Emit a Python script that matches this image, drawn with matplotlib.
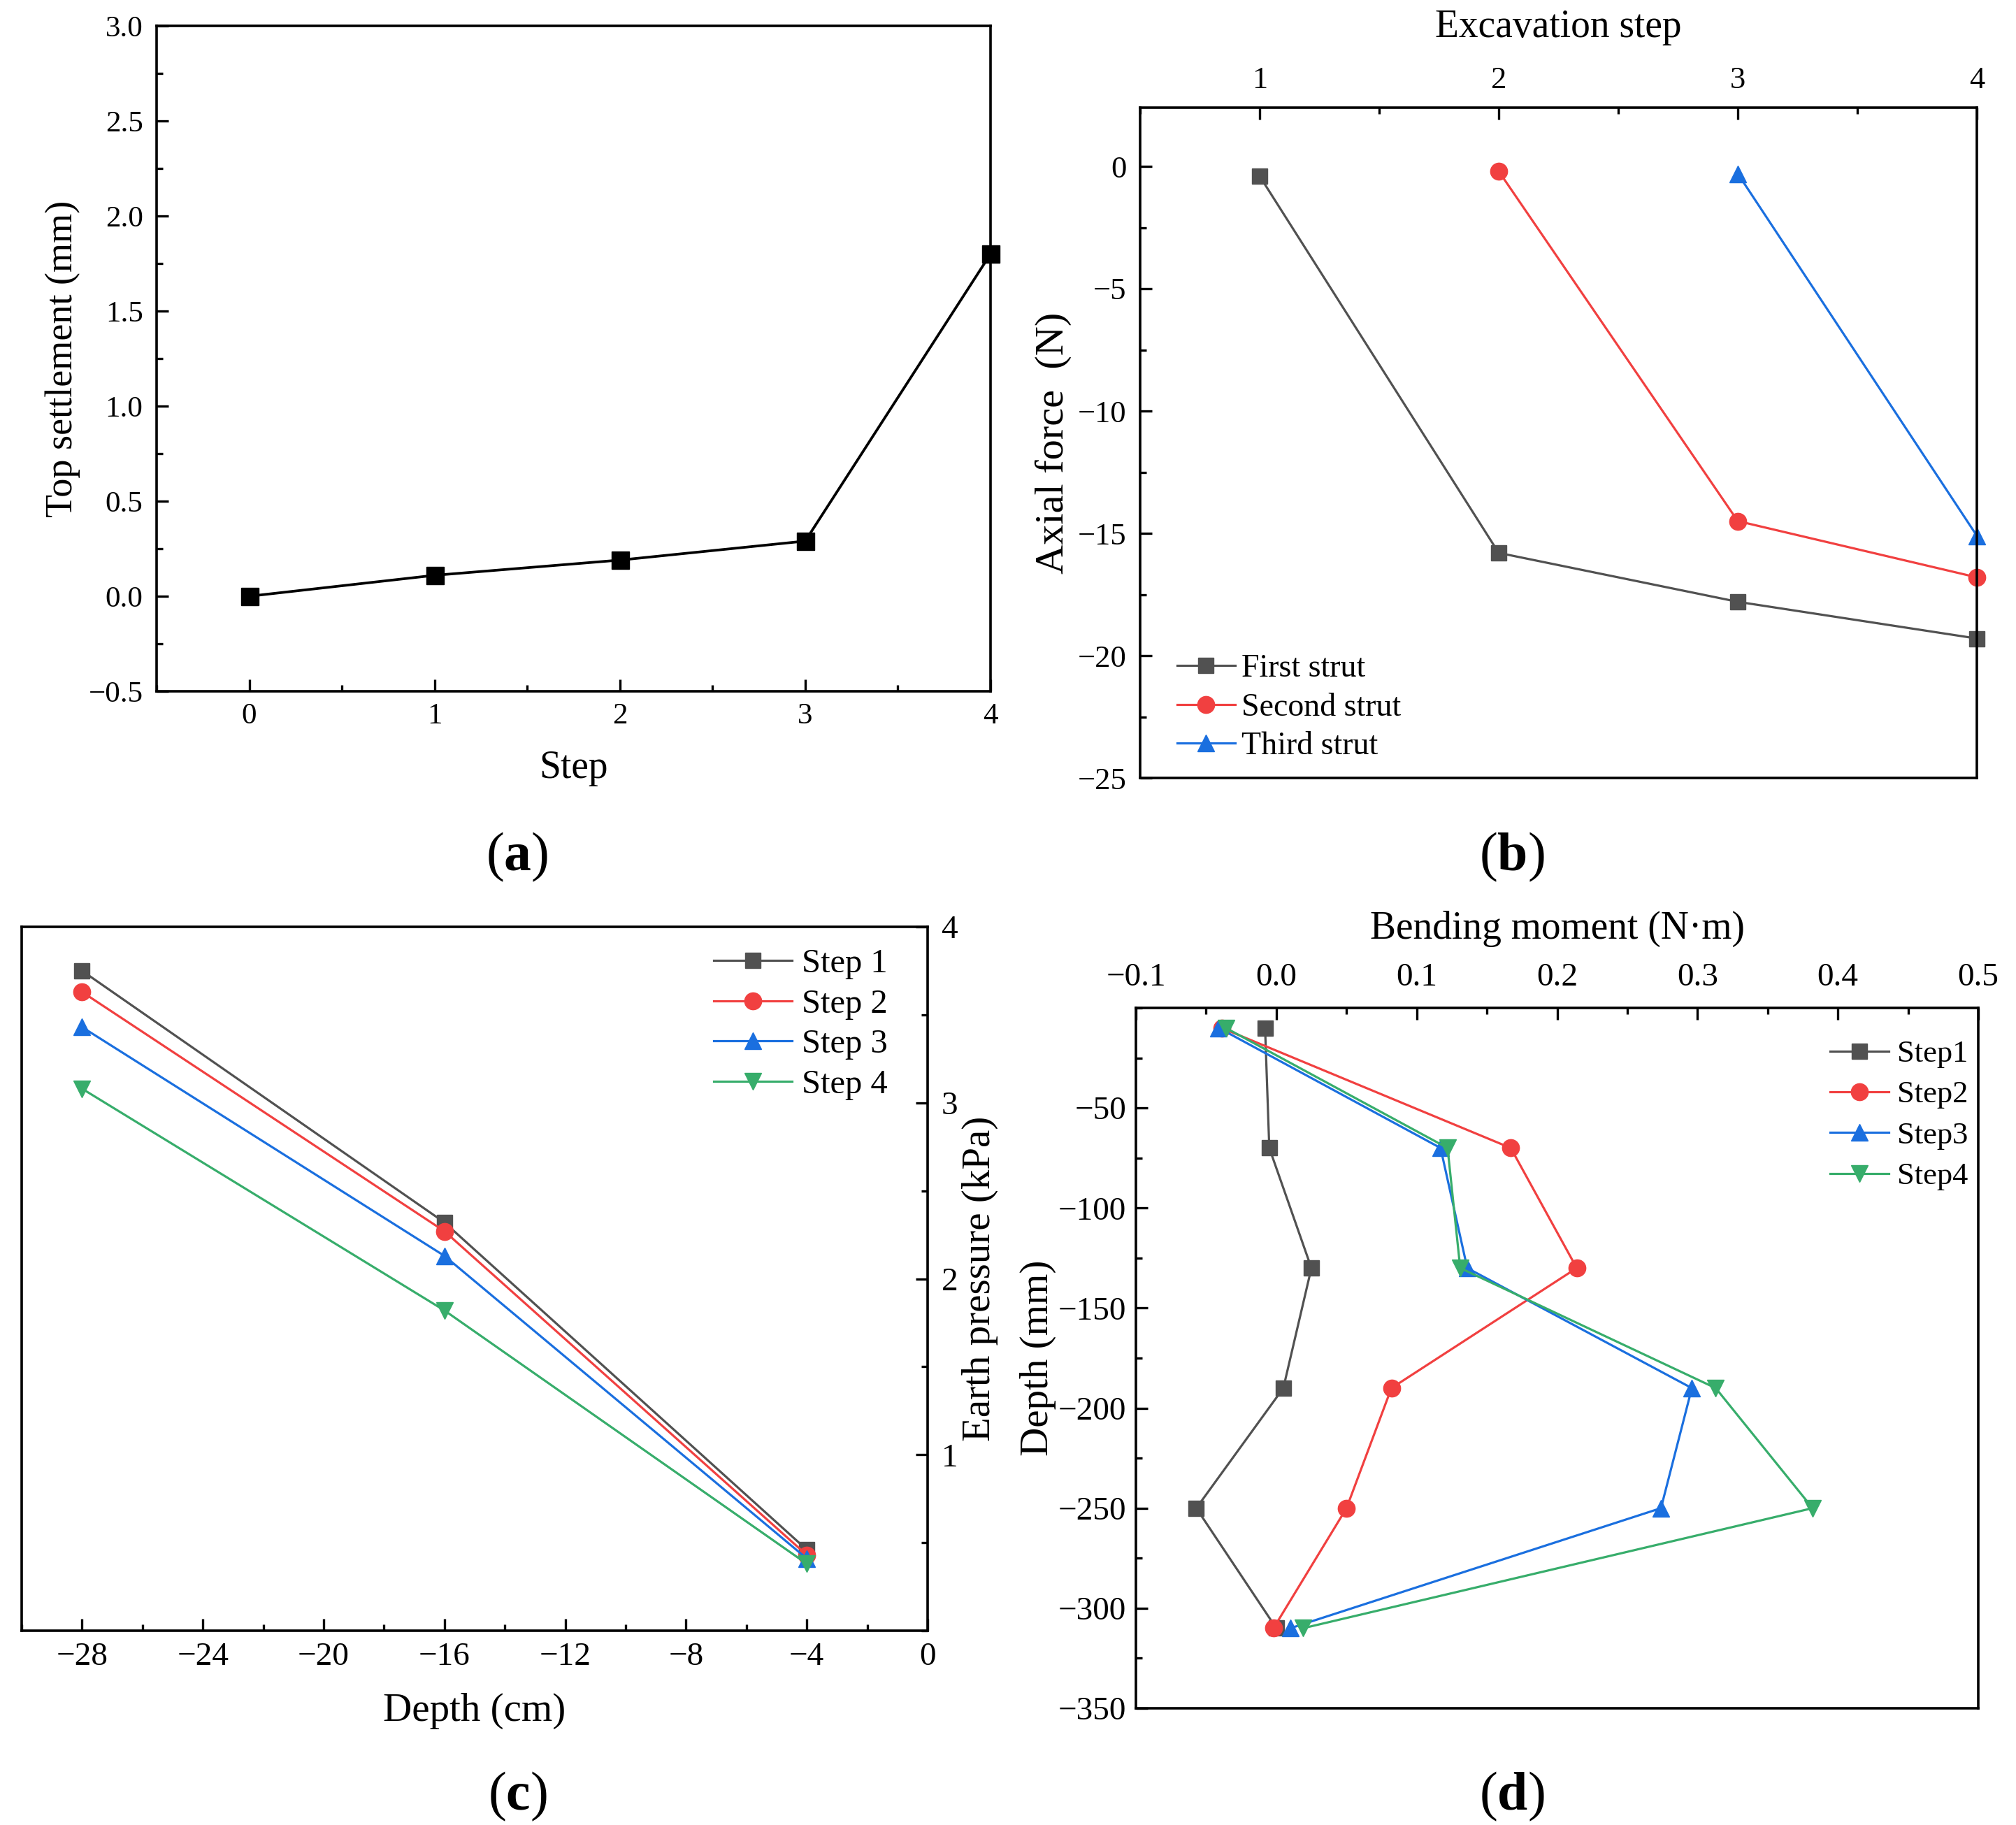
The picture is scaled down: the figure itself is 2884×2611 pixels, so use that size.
import matplotlib
matplotlib.use("Agg")
import matplotlib.pyplot as plt
from matplotlib.ticker import MultipleLocator

plt.rcParams["font.family"] = ["Liberation Serif", "DejaVu Serif"]
plt.rcParams["mathtext.fontset"] = "custom"
plt.rcParams["mathtext.rm"] = "Liberation Serif"
plt.rcParams["mathtext.bf"] = "Liberation Serif:bold"
plt.rcParams["axes.unicode_minus"] = True

# origin-style palette
GRAY, RED, BLUE, GREEN = "#515151", "#F14040", "#1A6FDF", "#37AD6B"

# (a) top settlement
steps_a = [0, 1, 2, 3, 4]
settlement = [0.0, 0.11, 0.19, 0.29, 1.80]

# (b) strut axial force
exc_first = [1, 2, 3, 4]
force_first = [-0.4, -15.8, -17.8, -19.3]
exc_second = [2, 3, 4]
force_second = [-0.2, -14.5, -16.8]
exc_third = [3, 4]
force_third = [-0.3, -15.1]

# (c) earth pressure
depth_cm = [-28, -16, -4]
ep_step1 = [3.75, 2.32, 0.46]
ep_step2 = [3.63, 2.27, 0.43]
ep_step3 = [3.43, 2.13, 0.41]
ep_step4 = [3.08, 1.82, 0.38]

# (d) bending moment
depth_mm = [-10, -70, -130, -190, -250, -310]
bm_step1 = [-0.008, -0.005, 0.025, 0.005, -0.057, 0.0]
bm_step2 = [-0.039, 0.167, 0.214, 0.082, 0.050, -0.002]
bm_step3 = [-0.041, 0.117, 0.136, 0.296, 0.274, 0.010]
bm_step4 = [-0.036, 0.122, 0.131, 0.313, 0.382, 0.019]

W, H = 2884, 2611
fig = plt.figure(figsize=(W / 100, H / 100), dpi=100)

LW = 2.3
MS_SQ, MS_RD = 16, 17.5
LABEL = 40


def box(l, r, t, b):
    return [l / W, 1 - b / H, (r - l) / W, (b - t) / H]


def fpos(x, y):
    return (x / W, 1 - y / H)


def style(ax, size):
    for s in ax.spines.values():
        s.set_linewidth(2.6)
    ax.tick_params(which="both", direction="in", width=2.4, labelsize=size)
    ax.tick_params(which="major", length=12.5)
    ax.tick_params(which="minor", length=6.5)


def legend(ax, x, y, size, hlen, hpad, spacing):
    ax.legend(loc="upper left", bbox_to_anchor=fpos(x, y),
              bbox_transform=fig.transFigure, frameon=False, fontsize=size,
              handlelength=hlen, handletextpad=hpad, labelspacing=spacing,
              borderpad=0, borderaxespad=0)


# ---- (a) ----
ax = fig.add_axes(box(224, 1417, 37, 989))
ax.plot(steps_a, settlement, color="black", lw=2.7, marker="s", ms=18, clip_on=False)
ax.set_xlim(-0.5, 4)
ax.set_ylim(-0.5, 3.0)
ax.xaxis.set_major_locator(MultipleLocator(1))
ax.xaxis.set_minor_locator(MultipleLocator(0.5))
ax.set_yticks([-0.5, 0.0, 0.5, 1.0, 1.5, 2.0, 2.5, 3.0])
ax.set_yticklabels(["\u22120.5", "0.0", "0.5", "1.0", "1.5", "2.0", "2.5", "3.0"])
ax.yaxis.set_minor_locator(MultipleLocator(0.25))
style(ax, 31)
ax.tick_params(axis="x", pad=12)
ax.tick_params(axis="y", pad=14)
ax.set_xlabel("Step", fontsize=LABEL, labelpad=21)
ax.set_ylabel("Top settlement (mm)", fontsize=LABEL - 1, labelpad=8)

# ---- (b) ----
ax = fig.add_axes(box(1631, 2828, 154, 1113))
ax.plot(exc_first, force_first, color=GRAY, lw=LW, marker="s", ms=MS_SQ,
        label="First strut", clip_on=False)
ax.plot(exc_second, force_second, color=RED, lw=LW, marker="o", ms=MS_RD,
        label="Second strut", clip_on=False)
ax.plot(exc_third, force_third, color=BLUE, lw=LW, marker="^", ms=MS_RD,
        label="Third strut", clip_on=False)
ax.set_xlim(0.5, 4)
ax.set_ylim(-25, 2.4)
ax.xaxis.tick_top()
ax.xaxis.set_label_position("top")
ax.xaxis.set_major_locator(MultipleLocator(1))
ax.xaxis.set_minor_locator(MultipleLocator(0.5))
ax.yaxis.set_major_locator(MultipleLocator(5))
ax.yaxis.set_minor_locator(MultipleLocator(2.5))
style(ax, 32)
ax.tick_params(axis="x", pad=14)
ax.tick_params(axis="y", pad=14)
ax.set_xlabel("Excavation step", fontsize=LABEL, labelpad=30)
ax.set_ylabel("Axial force  (N)", fontsize=LABEL + 2, labelpad=6)
legend(ax, 1684, 936, 33, 1.8, 0.2, 0.28)

# ---- (c) ----
ax = fig.add_axes(box(31, 1327, 1326, 2333))
ax.plot(depth_cm, ep_step1, color=GRAY, lw=LW, marker="s", ms=MS_SQ, label="Step 1")
ax.plot(depth_cm, ep_step2, color=RED, lw=LW, marker="o", ms=MS_RD, label="Step 2")
ax.plot(depth_cm, ep_step3, color=BLUE, lw=LW, marker="^", ms=MS_RD, label="Step 3")
ax.plot(depth_cm, ep_step4, color=GREEN, lw=LW, marker="v", ms=MS_RD, label="Step 4")
ax.set_xlim(-30, 0)
ax.set_ylim(0, 4)
ax.yaxis.tick_right()
ax.yaxis.set_label_position("right")
ax.set_xticks([-28, -24, -20, -16, -12, -8, -4, 0])
ax.xaxis.set_minor_locator(MultipleLocator(2))
ax.set_yticks([1, 2, 3, 4])
ax.yaxis.set_minor_locator(MultipleLocator(0.5))
style(ax, 34)
ax.tick_params(axis="x", pad=12)
ax.tick_params(axis="y", pad=14)
ax.set_xlabel("Depth (cm)", fontsize=LABEL + 1, labelpad=21)
ax.set_ylabel("Earth pressure (kPa)", fontsize=LABEL + 1, labelpad=4)
ax.yaxis.label.set_rotation(90)
legend(ax, 1021, 1357, 35, 2.3, 0.3, 0.28)

# ---- (d) ----
ax = fig.add_axes(box(1625, 2830, 1442, 2444))
ax.plot(bm_step1, depth_mm, color=GRAY, lw=LW, marker="s", ms=MS_SQ, label="Step1")
ax.plot(bm_step2, depth_mm, color=RED, lw=LW, marker="o", ms=MS_RD, label="Step2")
ax.plot(bm_step3, depth_mm, color=BLUE, lw=LW, marker="^", ms=MS_RD, label="Step3")
ax.plot(bm_step4, depth_mm, color=GREEN, lw=LW, marker="v", ms=MS_RD, label="Step4")
ax.set_xlim(-0.1, 0.5)
ax.set_ylim(-350, 0)
ax.xaxis.tick_top()
ax.xaxis.set_label_position("top")
ax.set_xticks([-0.1, 0.0, 0.1, 0.2, 0.3, 0.4, 0.5])
ax.set_xticklabels(["\u22120.1", "0.0", "0.1", "0.2", "0.3", "0.4", "0.5"])
ax.xaxis.set_minor_locator(MultipleLocator(0.05))
ax.set_yticks([-350, -300, -250, -200, -150, -100, -50])
ax.yaxis.set_minor_locator(MultipleLocator(25))
style(ax, 34)
ax.tick_params(axis="x", pad=16)
ax.tick_params(axis="y", pad=10)
ax.set_xlabel("Bending moment (N\u00b7m)", fontsize=LABEL, labelpad=25)
ax.set_ylabel("Depth (mm)", fontsize=LABEL + 1, labelpad=2)
legend(ax, 2618, 1488, 32, 1.9, 0.25, 0.41)

# panel letters
for x, y, s in [(740, 1226, "a"), (2163, 1226, "b"),
                (740, 2570, "c"), (2163, 2570, "d")]:
    fig.text(x / W, 1 - y / H, "($\\mathbf{%s}$)" % s, fontsize=56,
             ha="center", va="center")

fig.savefig("out.png", dpi=100)
